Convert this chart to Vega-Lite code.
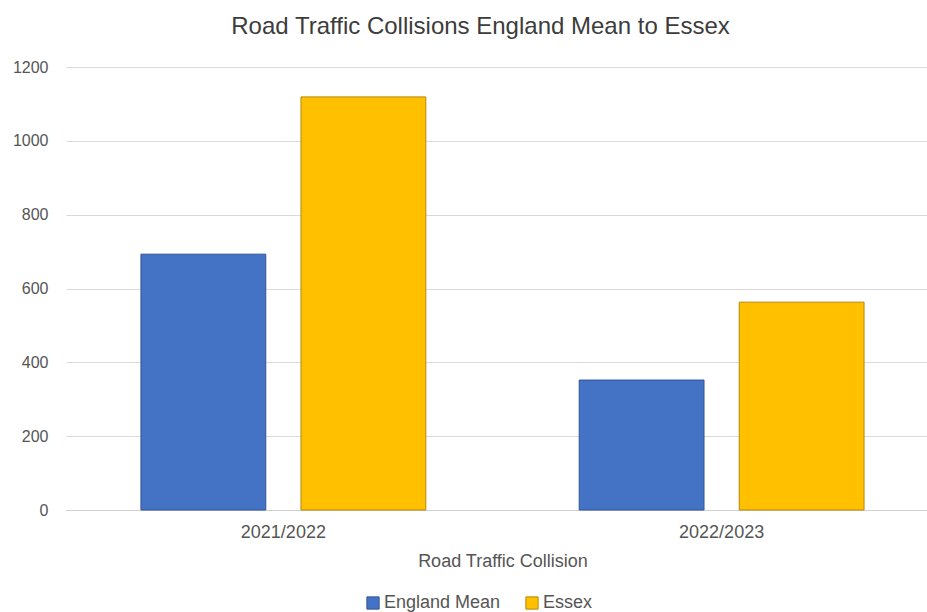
{
  "$schema": "https://vega.github.io/schema/vega-lite/v6.json",
  "autosize": {"type": "none"},
  "width": 873,
  "height": 443,
  "padding": {"left": 66, "top": 67, "right": 0, "bottom": 102},
  "background": "white",
  "config": {
    "font": "Liberation Sans",
    "view": {"stroke": null}
  },
  "title": {
    "text": "Road Traffic Collisions England Mean to Essex",
    "fontSize": 24,
    "fontWeight": "normal",
    "color": "#3c3c3c",
    "anchor": "middle",
    "offset": 20,
    "dx": -22
  },
  "data": {
    "values": [
      {"year": "2021/2022", "series": "England Mean", "value": 693},
      {"year": "2021/2022", "series": "Essex", "value": 1119},
      {"year": "2022/2023", "series": "England Mean", "value": 352},
      {"year": "2022/2023", "series": "Essex", "value": 563}
    ]
  },
  "mark": {"type": "bar", "strokeWidth": 1},
  "encoding": {
    "x": {
      "field": "year",
      "type": "nominal",
      "scale": {"paddingInner": 0.35, "paddingOuter": 0.171},
      "axis": {
        "title": "Road Traffic Collision",
        "labelAngle": 0,
        "labelFontSize": 18,
        "labelColor": "#555555",
        "labelPadding": 13,
        "ticks": false,
        "domainColor": "#d0d0d0",
        "titleFontSize": 18,
        "titleFontWeight": "normal",
        "titleColor": "#555555",
        "titlePadding": 11
      }
    },
    "xOffset": {
      "field": "series",
      "type": "nominal",
      "sort": ["England Mean", "Essex"],
      "scale": {"paddingInner": 0.22, "paddingOuter": 0}
    },
    "y": {
      "field": "value",
      "type": "quantitative",
      "scale": {"domain": [0, 1200]},
      "axis": {
        "title": null,
        "values": [0, 200, 400, 600, 800, 1000, 1200],
        "format": "d",
        "domain": false,
        "ticks": false,
        "labelFontSize": 16,
        "labelColor": "#555555",
        "labelPadding": 18,
        "gridColor": "#d9d9d9"
      }
    },
    "color": {
      "field": "series",
      "type": "nominal",
      "scale": {"domain": ["England Mean", "Essex"], "range": ["#4472C4", "#FFC000"]},
      "legend": {
        "title": null,
        "orient": "none",
        "legendX": 298,
        "legendY": 527,
        "direction": "horizontal",
        "symbolType": "square",
        "symbolSize": 150,
        "symbolStrokeWidth": 1,
        "labelFontSize": 18,
        "labelColor": "#555555",
        "labelOffset": 2,
        "columnPadding": 22
      }
    },
    "stroke": {
      "field": "series",
      "type": "nominal",
      "scale": {"domain": ["England Mean", "Essex"], "range": ["#2F5597", "#B8860B"]},
      "legend": null
    }
  }
}
